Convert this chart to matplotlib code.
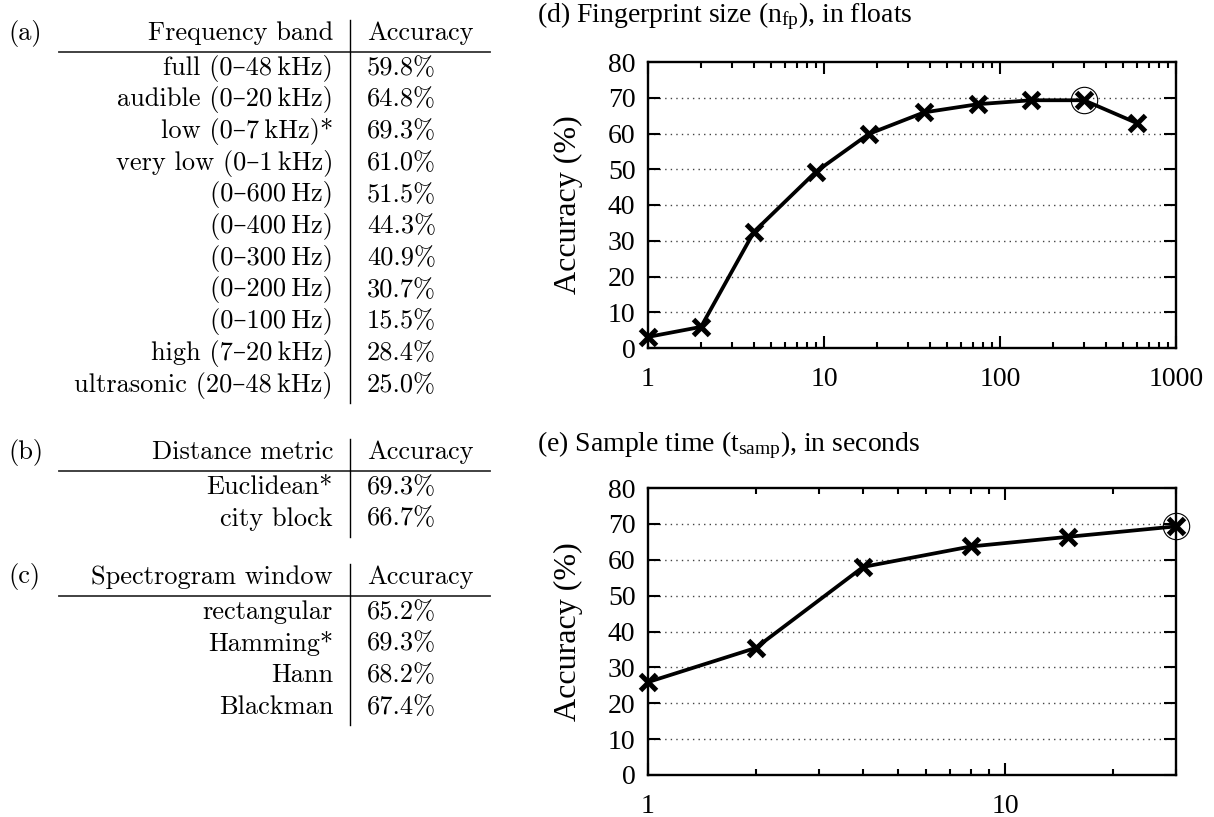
import matplotlib
matplotlib.use("Agg")
import matplotlib.pyplot as plt
from matplotlib.lines import Line2D

plt.rcParams['mathtext.fontset'] = 'custom'
plt.rcParams['mathtext.rm'] = 'Liberation Serif'
plt.rcParams['font.family'] = ['Liberation Serif', 'DejaVu Serif']

# ---- table data ----
band_names = ['full (0–48\u2009kHz)', 'audible (0–20\u2009kHz)', 'low (0–7\u2009kHz)*',
              'very low (0–1\u2009kHz)', '(0–600\u2009Hz)', '(0–400\u2009Hz)', '(0–300\u2009Hz)',
              '(0–200\u2009Hz)', '(0–100\u2009Hz)', 'high (7–20\u2009kHz)',
              'ultrasonic (20–48\u2009kHz)']
band_acc = ['59.8%', '64.8%', '69.3%', '61.0%', '51.5%', '44.3%', '40.9%',
            '30.7%', '15.5%', '28.4%', '25.0%']
metric_names = ['Euclidean*', 'city block']
metric_acc = ['69.3%', '66.7%']
window_names = ['rectangular', 'Hamming*', 'Hann', 'Blackman']
window_acc = ['65.2%', '69.3%', '68.2%', '67.4%']

# ---- plot data ----
fp_size = [1, 2, 4, 9, 18, 37, 75, 150, 300, 600]
fp_acc = [3.1, 5.9, 32.5, 49.3, 59.9, 65.9, 68.2, 69.3, 69.3, 62.9]
fp_best = 300
samp_time = [1, 2, 4, 8, 15, 30]
samp_acc = [25.9, 35.4, 58.0, 63.7, 66.4, 69.3]
samp_best = 30

W, H = 1214, 817
fig = plt.figure(figsize=(W / 100, H / 100), dpi=100)

# tables drawn on a full-figure axes in pixel units
tab = fig.add_axes([0, 0, 1, 1])
tab.set_xlim(0, W)
tab.set_ylim(H, 0)
tab.axis('off')
cm = ['cmr10', 'DejaVu Serif']
fs_tab = 19


def draw_table(label, head, names, accs, y0):
    tab.text(8, y0, label, ha='left', va='center', family=cm, fontsize=fs_tab)
    tab.text(333, y0, head, ha='right', va='center', family=cm, fontsize=fs_tab)
    tab.text(367, y0, 'Accuracy', ha='left', va='center', family=cm, fontsize=fs_tab)
    tab.add_line(Line2D([59, 490], [y0 + 19, y0 + 19], color='#333333', lw=1.3))
    last = y0
    for i, (n, a) in enumerate(zip(names, accs)):
        yy = y0 + 35 + i * 31.7
        tab.text(333, yy, n, ha='right', va='center', family=cm, fontsize=fs_tab)
        tab.text(367, yy, a, ha='left', va='center', family=cm, fontsize=fs_tab)
        last = yy
    tab.add_line(Line2D([350, 350], [y0 - 13, last + 18], color='black', lw=1.0))


draw_table('(a)', 'Frequency band', band_names, band_acc, 33)
draw_table('(b)', 'Distance metric', metric_names, metric_acc, 452)
draw_table('(c)', 'Spectrogram window', window_names, window_acc, 577)


def line_plot(rect, xs, ys, best, xmax, xticks, title, title_y):
    ax = fig.add_axes(rect)
    ax.set_xscale('log')
    ax.plot(xs, ys, color='black', lw=2.7, marker='x', ms=11, mew=3.6, zorder=3,
            clip_on=False)
    bi = xs.index(best)
    ax.plot([xs[bi]], [ys[bi]], marker='o', ms=19, mfc='none', mec='black',
            mew=0.8, ls='none', zorder=4, clip_on=False)
    ax.set_xlim(1, xmax)
    ax.set_ylim(0, 80)
    ax.set_yticks(range(0, 81, 10))
    ax.set_xticks(xticks)
    ax.set_xticklabels([str(t) for t in xticks])
    for v in range(10, 80, 10):
        ax.axhline(v, color='#444444', lw=1.0, ls=(0, (1, 3)), zorder=1)
    for s in ax.spines.values():
        s.set_linewidth(1.7)
    ax.tick_params(which='both', direction='in', top=True, right=True, width=1.5,
                   labelsize=20)
    ax.tick_params(which='major', length=8.5)
    ax.tick_params(which='minor', length=4.5)
    ax.tick_params(axis='y', pad=9)
    ax.tick_params(axis='x', pad=14)
    ax.set_ylabel('Accuracy (%)', fontsize=23, labelpad=18)
    fig.text(537 / W, 1 - title_y / H, title, ha='left', va='center', fontsize=20)
    return ax


line_plot([648 / W, 1 - 348 / H, 528 / W, 286 / H], fp_size, fp_acc, fp_best, 1000,
          [1, 10, 100, 1000], r'(d) Fingerprint size (n$\mathregular{_{fp}}$), in floats', 16)
line_plot([648 / W, 1 - 775 / H, 528 / W, 287 / H], samp_time, samp_acc, samp_best, 30,
          [1, 10], r'(e) Sample time (t$\mathregular{_{samp}}$), in seconds', 445)

fig.savefig('out.png', dpi=100)
